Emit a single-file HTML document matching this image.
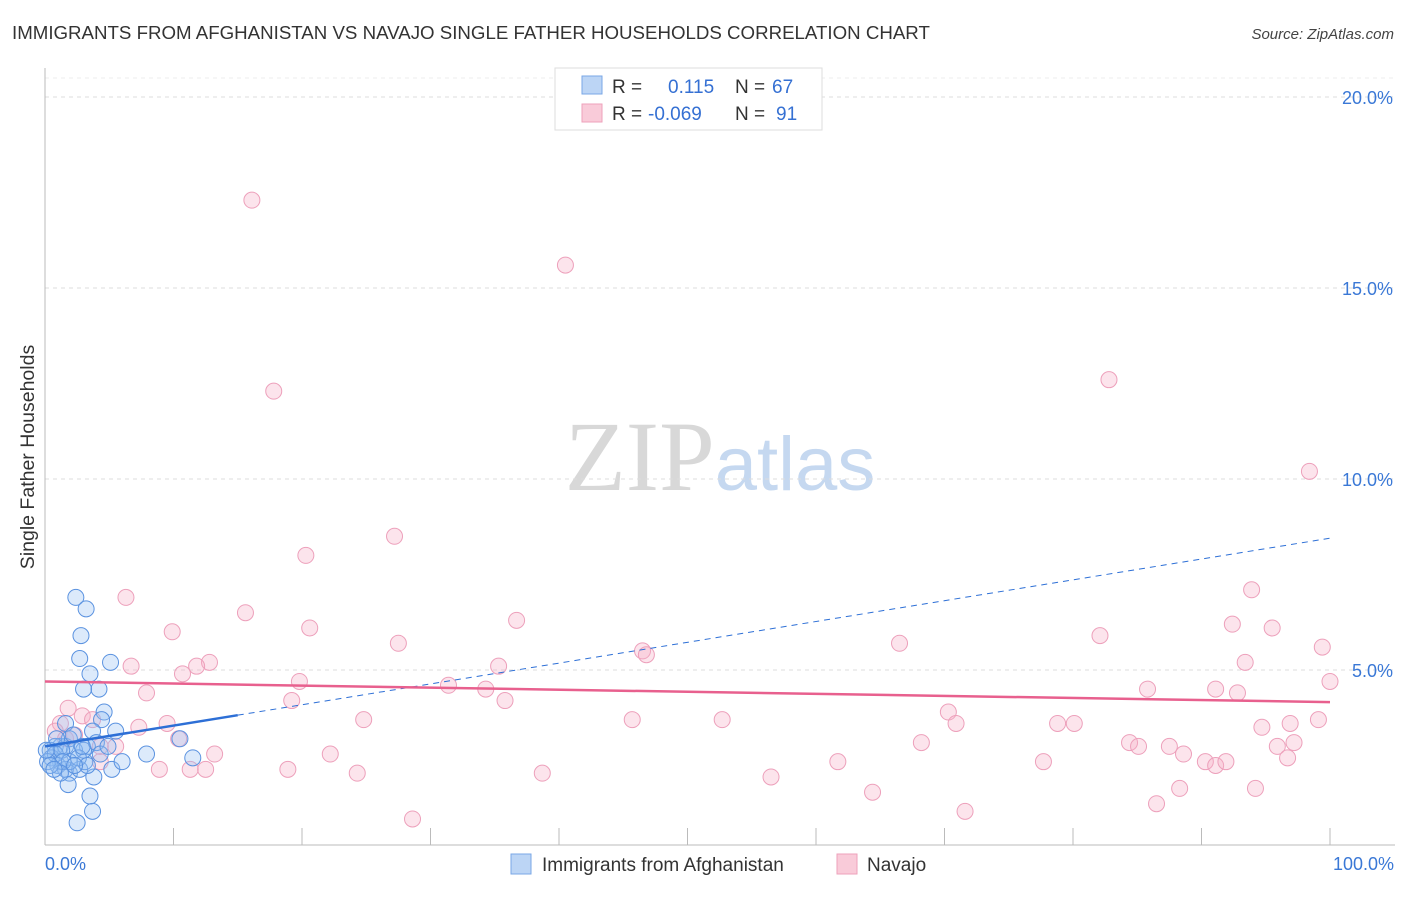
<!DOCTYPE html>
<html><head><meta charset="utf-8"><style>
body{margin:0;background:#fff;font-family:"Liberation Sans",sans-serif;}
svg text{font-family:"Liberation Sans",sans-serif;}
</style></head><body>
<svg id="chart" width="1406" height="892" xmlns="http://www.w3.org/2000/svg">
<text x="12" y="39" font-size="18.7" fill="#333">IMMIGRANTS FROM AFGHANISTAN VS NAVAJO SINGLE FATHER HOUSEHOLDS CORRELATION CHART</text>
<text x="1394" y="39" font-size="15" fill="#444" text-anchor="end" font-style="italic">Source: ZipAtlas.com</text>
<text x="720" y="490" font-size="100" text-anchor="middle"><tspan fill="#d8d8d8" font-family="Liberation Serif">ZIP</tspan><tspan fill="#c5d8f0" font-size="76">atlas</tspan></text>
<g id="grid"></g>
<g id="axes"></g>
<g id="pts"></g>
<g id="trends"></g>
<text transform="translate(34,457) rotate(-90)" font-size="19.5" fill="#333" text-anchor="middle">Single Father Households</text>
<g>
<rect x="555" y="68" width="267" height="62" fill="#fff" stroke="#ddd"/>
<rect x="582" y="76" width="20" height="18" fill="#bcd5f5" stroke="#7aa7e6"/>
<rect x="582" y="104" width="20" height="18" fill="#f9cbd9" stroke="#eea2bb"/>
<text x="612" y="93" font-size="19" fill="#333">R = <tspan fill="#3570d3" x="668">0.115</tspan><tspan fill="#333" x="735">N = </tspan><tspan fill="#3570d3" x="772">67</tspan></text>
<text x="612" y="120" font-size="19" fill="#333">R = <tspan fill="#3570d3" x="648">-0.069</tspan><tspan fill="#333" x="735">N = </tspan><tspan fill="#3570d3" x="776">91</tspan></text>
</g>
<g>
<rect x="511" y="854" width="20" height="20" fill="#bcd5f5" stroke="#7aa7e6"/>
<text x="542" y="871" font-size="19" fill="#333">Immigrants from Afghanistan</text>
<rect x="837" y="854" width="20" height="20" fill="#f9cbd9" stroke="#eea2bb"/>
<text x="867" y="871" font-size="19" fill="#333">Navajo</text>
</g>
</svg>
<script>
const blueX=[2.4,3.2,2.8,2.7,3.5,5.1,4.2,3.0,4.6,4.4,3.7,5.5,3.3,1.2,0.8,0.4,1.6,1.9,2.3,1.2,0.5,1.0,1.6,1.9,1.8,2.7,3.1,3.8,5.2,6.0,7.9,10.5,11.5,3.5,3.7,2.5,1.6,2.2,3.0,4.0,0.8,1.3,0.2,1.9,2.6,3.3,4.3,4.9,0.1,0.9,1.4,2.3,2.9,1.2,0.4,0.7];
const blueY=[6.9,6.6,5.9,5.3,4.9,5.2,4.5,4.5,3.9,3.7,3.4,3.4,3.0,3.0,3.0,2.9,3.0,3.2,2.9,2.6,2.7,2.5,2.4,2.3,2.0,2.4,2.6,2.2,2.4,2.6,2.8,3.2,2.7,1.7,1.3,1.0,3.6,3.3,2.9,3.1,2.8,2.9,2.6,2.6,2.7,2.5,2.8,3.0,2.9,3.2,2.6,2.5,3.0,2.3,2.5,2.4];
const pinkX=[16.1,40.5,17.8,82.8,98.4,27.2,20.3,6.3,15.6,36.7,20.6,9.9,27.5,93.9,92.4,95.5,82.1,66.5,46.5,46.8,99.4,12.8,11.8,6.7,10.7,35.3,93.4,19.8,7.9,31.4,34.3,85.8,91.1,100,92.8,19.2,35.8,1.8,2.9,3.7,24.8,45.7,52.7,70.3,70.9,78.8,80.1,96.9,99.1,94.7,1.2,7.3,9.5,10.4,22.2,13.2,5.5,68.2,84.4,85.1,87.5,88.6,95.9,97.2,90.3,91.1,91.9,96.7,77.7,61.7,0.8,1.6,4.3,8.9,11.3,12.5,18.9,24.3,38.7,56.5,88.3,94.2,86.5,64.4,71.6,28.6,4.3,2.3];
const pinkY=[17.3,15.6,12.3,12.6,10.2,8.5,8.0,6.9,6.5,6.3,6.1,6.0,5.7,7.1,6.2,6.1,5.9,5.7,5.5,5.4,5.6,5.2,5.1,5.1,4.9,5.1,5.2,4.7,4.4,4.6,4.5,4.5,4.5,4.7,4.4,4.2,4.2,4.0,3.8,3.7,3.7,3.7,3.7,3.9,3.6,3.6,3.6,3.6,3.7,3.5,3.6,3.5,3.6,3.2,2.8,2.8,3.0,3.1,3.1,3.0,3.0,2.8,3.0,3.1,2.6,2.5,2.6,2.7,2.6,2.6,3.4,3.2,3.0,2.4,2.4,2.4,2.4,2.3,2.3,2.2,1.9,1.9,1.5,1.8,1.3,1.1,2.6,3.3];
const yTicks=[5,10,15,20];
const yTickLabels=["5.0%","10.0%","15.0%","20.0%"];
const xTicks=[0,10,20,30,40,50,60,70,80,90,100];
const blueTrend=[3.0,8.45];
const pinkTrend=[4.7,4.16];
const NS="http://www.w3.org/2000/svg";
const sx=v=>45+v*12.85, sy=v=>861-v*38.2;
function mk(parent,tag,attrs){const e=document.createElementNS(NS,tag);for(const k in attrs)e.setAttribute(k,attrs[k]);document.getElementById(parent).appendChild(e);return e;}
yTicks.forEach((t,i)=>{
 const l=mk('grid','line',{x1:45,x2:1395,y1:sy(t),y2:sy(t),stroke:'#ddd','stroke-dasharray':'4,4'});
 
 
 const tx=mk('grid','text',{x:1393,y:sy(t)+7,'font-size':18,fill:'#3a78d6','text-anchor':'end'});
 tx.textContent=yTickLabels[i];
 
 
});
const tl=mk('grid','line',{x1:45,x2:1395,y1:78,y2:78,stroke:'#eee','stroke-dasharray':'4,4'});
mk('axes','line',{x1:45,x2:45,y1:68,y2:845,stroke:'#bbb'});
mk('axes','line',{x1:45,x2:1395,y1:845,y2:845,stroke:'#bbb'});
xTicks.forEach(t=>{
 const l=mk('axes','line',{x1:sx(t),x2:sx(t),y1:828,y2:845,stroke:'#bbb'});
 
 
});
const x0=mk('axes','text',{x:45,y:870,'font-size':18,fill:'#3a78d6'});x0.textContent='0.0%';


const x1=mk('axes','text',{x:1394,y:870,'font-size':18,fill:'#3a78d6','text-anchor':'end'});x1.textContent='100.0%';


pinkX.forEach((x,i)=>{
 const c=mk('pts','circle',{cx:sx(x),cy:sy(pinkY[i]),r:8,fill:'rgba(246,172,198,0.33)',stroke:'#eda0bb','stroke-width':1});
 
 
});
blueX.forEach((x,i)=>{
 const c=mk('pts','circle',{cx:sx(x),cy:sy(blueY[i]),r:8,fill:'rgba(150,192,242,0.33)',stroke:'#5a92e0','stroke-width':1});
 
 
});
const bAt=x=>blueTrend[0]+(blueTrend[1]-blueTrend[0])*x/100;
const b1=mk('trends','line',{x1:sx(0),y1:sy(bAt(0)),x2:sx(15),y2:sy(bAt(15)),stroke:'#2d6fd6','stroke-width':2.5});


const b2=mk('trends','line',{x1:sx(15),y1:sy(bAt(15)),x2:sx(100),y2:sy(bAt(100)),stroke:'#2d6fd6','stroke-width':1,'stroke-dasharray':'6,5'});


const p1=mk('trends','line',{x1:sx(0),y1:sy(pinkTrend[0]),x2:sx(100),y2:sy(pinkTrend[1]),stroke:'#e8608e','stroke-width':2.5});


</script>
</body></html>
